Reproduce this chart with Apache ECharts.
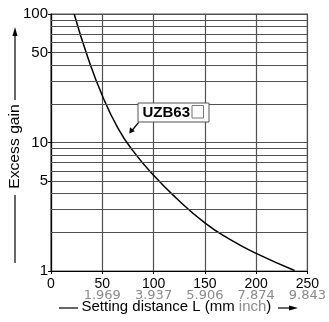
<!DOCTYPE html>
<html><head><meta charset="utf-8">
<script src="https://cdn.jsdelivr.net/npm/echarts@6/dist/echarts.min.js"></script>
<style>html,body{margin:0;padding:0;background:#fff}#c{width:329px;height:322px}</style>
</head><body><div id="c"></div>
<script>
const distanceMm = [22.6, 35.6, 50, 65.4, 80, 100, 122, 150, 174, 200, 237.5];
const excessGain = [100, 46.6, 23.2, 12.9, 8.6, 5.55, 3.7, 2.37, 1.77, 1.37, 1.01];
const xTicks = [0, 50, 100, 150, 200, 250];
const inchLabels = ['', '1.969', '3.937', '5.906', '7.874', '9.843'];
const yLabels = [1, 5, 10, 50, 100];
const yGridValues = [2, 3, 4, 5, 6, 7, 8, 9, 20, 30, 40, 50, 60, 70, 80, 90];

const FONT = '"Liberation Sans", Arial, sans-serif';
const GRID = '#505050';
const chart = echarts.init(document.getElementById('c'), null, {renderer: 'canvas'});
chart.setOption({
  animation: false,
  backgroundColor: '#fff',
  grid: {left: 51, right: 20.5, top: 14, bottom: 51, show: true, borderColor: GRID, borderWidth: 1.2, backgroundColor: 'transparent'},
  xAxis: {
    type: 'value', min: 0, max: 250, interval: 50,
    axisLine: {show: true, lineStyle: {color: '#000', width: 1.2}},
    axisTick: {show: true, inside: false, length: 3, lineStyle: {color: '#000'}},
    splitLine: {show: true, lineStyle: {color: GRID, width: 1.2}},
    axisLabel: {
      margin: 7, fontFamily: FONT,
      formatter: function (v) {
        const i = xTicks.indexOf(v);
        return '{a|' + v + '}\n{b|' + (inchLabels[i] || ' ') + '}';
      },
      rich: {
        a: {fontSize: 14, color: '#000', fontFamily: FONT, lineHeight: 12},
        b: {fontSize: 13, color: '#8a8a8a', fontFamily: '"DejaVu Sans", sans-serif', lineHeight: 12}
      }
    }
  },
  yAxis: {
    type: 'log', logBase: 10, min: 1, max: 100,
    axisLine: {show: true, lineStyle: {color: '#000', width: 1.2}},
    axisTick: {show: true, length: 3, customValues: yLabels, lineStyle: {color: '#000'}},
    axisLabel: {customValues: yLabels, fontSize: 15, color: '#000', fontFamily: FONT, margin: 3},
    splitLine: {show: true, lineStyle: {color: GRID, width: 1.2}}
  },
  series: [{
    type: 'line', data: distanceMm.map((d, i) => [d, excessGain[i]]),
    smooth: 0.5, showSymbol: false, symbol: 'none',
    lineStyle: {color: '#000', width: 1.5},
    markLine: {
      silent: true, symbol: 'none', animation: false,
      label: {show: false},
      lineStyle: {color: GRID, width: 1.2, type: 'solid'},
      data: yGridValues.map(v => ({yAxis: v}))
    }
  }],
  graphic: [
    {type: 'rect', shape: {x: 138, y: 103, width: 71, height: 19}, style: {fill: '#fff', stroke: '#555', lineWidth: 1}, z: 100},
    {type: 'text', x: 142.5, y: 112.8, style: {text: 'UZB63', font: 'bold 15px ' + FONT, fill: '#000', verticalAlign: 'middle'}, z: 101},
    {type: 'rect', shape: {x: 192, y: 105.5, width: 11.5, height: 12.5}, style: {fill: '#fff', stroke: '#777', lineWidth: 1}, z: 101},
    {type: 'line', shape: {x1: 138.5, y1: 122.5, x2: 132, y2: 130.5}, style: {stroke: '#000', lineWidth: 1.2}, z: 100},
    {type: 'polygon', shape: {points: [[129.3, 133.5], [130, 127.3], [134.8, 131.2]]}, style: {fill: '#000'}, z: 100},
    {type: 'text', x: 15, y: 146.5, rotation: Math.PI / 2, scaleX: 1.12, style: {text: 'Excess gain', font: '14px ' + FONT, fill: '#000', align: 'center', verticalAlign: 'middle'}},
    {type: 'line', shape: {x1: 15, y1: 34, x2: 15, y2: 100}, style: {stroke: '#000', lineWidth: 1.2}},
    {type: 'polygon', shape: {points: [[15, 27], [12.5, 36], [17.5, 36]]}, style: {fill: '#000'}},
    {type: 'line', shape: {x1: 15, y1: 195, x2: 15, y2: 263}, style: {stroke: '#000', lineWidth: 1.2}},
    {type: 'line', shape: {x1: 59, y1: 308, x2: 78, y2: 308}, style: {stroke: '#000', lineWidth: 1.2}},
    {type: 'text', x: 81.5, y: 307.5, scaleX: 1.07, style: {text: '{a|Setting distance L (mm }{g|inch}{a|)}', font: '14px ' + FONT, verticalAlign: 'middle',
      rich: {a: {fontSize: 14, fontFamily: FONT, fill: '#000'}, g: {fontSize: 14, fontFamily: FONT, fill: '#8a8a8a'}}}},
    {type: 'line', shape: {x1: 278, y1: 308, x2: 290, y2: 308}, style: {stroke: '#000', lineWidth: 1.2}},
    {type: 'polygon', shape: {points: [[298, 308], [289, 305.5], [289, 310.5]]}, style: {fill: '#000'}}
  ]
});
</script></body></html>
